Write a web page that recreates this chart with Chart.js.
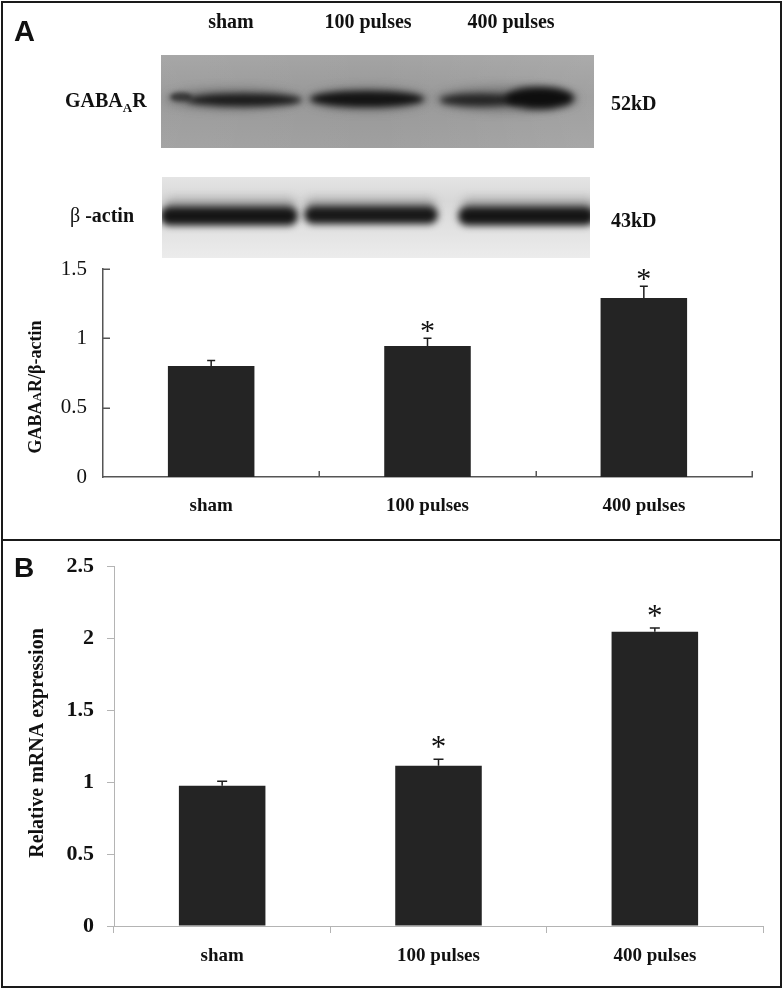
<!DOCTYPE html>
<html><head><meta charset="utf-8">
<script src="https://cdn.jsdelivr.net/npm/chart.js@4.4.1/dist/chart.umd.min.js"></script>
<style>
html,body{margin:0;padding:0;background:#fff;}
#wrap{position:relative;width:783px;height:990px;overflow:hidden;background:#fff;}
#wrap canvas{position:absolute;left:0;}
#cA{top:0;}
#cB{top:540px;}
.frame{position:absolute;border:2px solid #1a1a1a;box-sizing:border-box;pointer-events:none;}
</style></head><body>
<div id="wrap">
<canvas id="cA" width="783" height="540"></canvas>
<canvas id="cB" width="783" height="450"></canvas>
<div class="frame" style="left:1px;top:1px;width:781px;height:540px"></div>
<div class="frame" style="left:1px;top:539px;width:781px;height:449px"></div>
</div>
<script>
// ---------- data ----------
const categories = ['sham', '100 pulses', '400 pulses'];
const proteinRatio = [0.80, 0.945, 1.29];
const proteinError = [0.04, 0.055, 0.085];
const mrnaExpression = [0.975, 1.113, 2.044];
const mrnaError = [0.03, 0.046, 0.027];
const significant = [false, true, true];
const proteinTickValues = [0, 0.5, 1, 1.5];
const mrnaTickValues = [0, 0.5, 1, 1.5, 2, 2.5];
const blotLaneLabels = ['sham', '100 pulses', '400 pulses'];

const SERIF = '"Liberation Serif", "Times New Roman", serif';
const SANS = '"Liberation Sans", Arial, sans-serif';
const BAR = '#242424';

// ---------- plugins ----------
const errorBars = {
  id: 'errorBars',
  afterDatasetsDraw(chart, args, o) {
    const ctx = chart.ctx, y = chart.scales.y;
    const meta = chart.getDatasetMeta(0);
    const vals = chart.data.datasets[0].data;
    ctx.save();
    ctx.strokeStyle = '#1e1e1e';
    ctx.lineWidth = o.lw;
    meta.data.forEach((bar, i) => {
      const base = y.getPixelForValue(vals[i]);
      const top = y.getPixelForValue(vals[i] + o.err[i]);
      ctx.beginPath();
      ctx.moveTo(bar.x, base); ctx.lineTo(bar.x, top);
      ctx.moveTo(bar.x - o.cap, top); ctx.lineTo(bar.x + o.cap, top);
      ctx.stroke();
      if (o.sig[i]) {
        ctx.fillStyle = '#111';
        ctx.font = o.starSize + 'px ' + SERIF;
        ctx.textAlign = 'center';
        ctx.textBaseline = 'alphabetic';
        const m = ctx.measureText('*');
        const cy = top - o.starGap;
        const baseY = cy + (m.actualBoundingBoxAscent - m.actualBoundingBoxDescent) / 2;
        ctx.fillText('*', bar.x, baseY);
      }
    });
    ctx.restore();
  }
};

function drawPieces(ctx, pieces, x, y) {
  let cx = x;
  pieces.forEach(p => {
    ctx.font = p[1];
    ctx.fillText(p[0], cx, y + (p[2] || 0));
    cx += ctx.measureText(p[0]).width;
  });
  return cx - x;
}
function piecesWidth(ctx, pieces) {
  let w = 0;
  pieces.forEach(p => { ctx.font = p[1]; w += ctx.measureText(p[0]).width; });
  return w;
}

function band(ctx, x0, x1, cy, h, color, blur) {
  ctx.save();
  ctx.filter = 'blur(' + blur + 'px)';
  ctx.fillStyle = color;
  ctx.beginPath();
  ctx.ellipse((x0 + x1) / 2, cy, (x1 - x0) / 2, h / 2, 0, 0, Math.PI * 2);
  ctx.fill();
  ctx.restore();
}
function flatBand(ctx, x0, x1, cy, h, color, blur) {
  ctx.save();
  ctx.filter = 'blur(' + blur + 'px)';
  ctx.fillStyle = color;
  ctx.beginPath();
  ctx.roundRect(x0, cy - h / 2, x1 - x0, h, h / 2);
  ctx.fill();
  ctx.restore();
}

const panelA = {
  id: 'panelA',
  afterDraw(chart) {
    const ctx = chart.ctx;
    const {x, y} = chart.scales;
    const area = chart.chartArea;
    ctx.save();
    // inner tick marks
    ctx.strokeStyle = '#555';
    ctx.lineWidth = 1.5;
    ctx.beginPath();
    proteinTickValues.forEach(v => {
      if (v === 0) return;
      const py = Math.round(y.getPixelForValue(v)) + 0.25;
      ctx.moveTo(area.left, py); ctx.lineTo(area.left + 7, py);
    });
    for (let i = 0; i < categories.length; i++) {
      const px = Math.round(x.getPixelForValue(i + 0.5)) + 0.25;
      ctx.moveTo(px, area.bottom); ctx.lineTo(px, area.bottom - 6);
    }
    ctx.stroke();

    ctx.fillStyle = '#111';
    ctx.textBaseline = 'alphabetic';
    // y title
    ctx.save();
    ctx.translate(41, 387);
    ctx.rotate(-Math.PI / 2);
    const tp = [['GABA', 'bold 18px ' + SERIF], ['A', 'bold 13px ' + SERIF], ['R/\u03b2-actin', 'bold 18px ' + SERIF]];
    const tw = piecesWidth(ctx, tp);
    drawPieces(ctx, tp, -tw / 2, 0);
    ctx.restore();

    // panel letter
    ctx.font = 'bold 29px ' + SANS;
    ctx.textAlign = 'left';
    ctx.fillText('A', 14, 41);

    // blot lane labels
    ctx.font = 'bold 20px ' + SERIF;
    ctx.textAlign = 'center';
    const laneX = [231, 368, 511];
    blotLaneLabels.forEach((t, i) => ctx.fillText(t, laneX[i], 28));

    // row labels
    ctx.textAlign = 'left';
    const gp = [['GABA', 'bold 20px ' + SERIF], ['A', 'bold 13px ' + SERIF, 5], ['R', 'bold 20px ' + SERIF]];
    drawPieces(ctx, gp, 65, 107);
    ctx.font = '20px ' + SERIF;
    const bw = ctx.measureText('\u03b2').width;
    ctx.fillText('\u03b2', 70, 222);
    ctx.font = 'bold 20px ' + SERIF;
    ctx.fillText(' -actin', 70 + bw, 222);
    ctx.fillText('52kD', 611, 110);
    ctx.fillText('43kD', 611, 227);

    // GABA blot
    ctx.save();
    ctx.beginPath(); ctx.rect(161, 55, 433, 93); ctx.clip();
    let g = ctx.createLinearGradient(0, 55, 0, 148);
    g.addColorStop(0, '#a4a4a4'); g.addColorStop(0.45, '#989898'); g.addColorStop(1, '#a0a0a0');
    ctx.fillStyle = g; ctx.fillRect(161, 55, 433, 93);
    let gh = ctx.createLinearGradient(161, 0, 594, 0);
    gh.addColorStop(0, 'rgba(255,255,255,0.04)'); gh.addColorStop(0.5, 'rgba(255,255,255,0)'); gh.addColorStop(1, 'rgba(255,255,255,0.08)');
    ctx.fillStyle = gh; ctx.fillRect(161, 55, 433, 93);
    band(ctx, 166, 300, 99, 22, 'rgba(60,60,60,0.35)', 5);
    band(ctx, 308, 428, 99, 24, 'rgba(60,60,60,0.35)', 5);
    band(ctx, 436, 578, 99, 26, 'rgba(60,60,60,0.35)', 5);
    band(ctx, 170, 192, 97, 9, '#3a3a3a', 2);
    band(ctx, 186, 302, 100, 13, '#1c1c1c', 3);
    band(ctx, 310, 424, 99, 16, '#141414', 3);
    band(ctx, 440, 522, 100, 13, '#262626', 3);
    band(ctx, 505, 574, 98, 22, '#0e0e0e', 3.5);
    ctx.restore();

    // actin blot
    ctx.save();
    ctx.beginPath(); ctx.rect(162, 177, 428, 81); ctx.clip();
    let g2 = ctx.createLinearGradient(0, 177, 0, 258);
    g2.addColorStop(0, '#e4e4e4'); g2.addColorStop(0.3, '#d8d8d8'); g2.addColorStop(0.65, '#e2e2e2'); g2.addColorStop(1, '#ececec');
    ctx.fillStyle = g2; ctx.fillRect(162, 177, 428, 81);
    flatBand(ctx, 165, 296, 205, 14, 'rgba(80,80,80,0.35)', 5);
    flatBand(ctx, 305, 436, 205, 14, 'rgba(80,80,80,0.35)', 5);
    flatBand(ctx, 462, 595, 205, 14, 'rgba(80,80,80,0.35)', 5);
    flatBand(ctx, 160, 298, 216, 19, '#151515', 3.5);
    flatBand(ctx, 304, 438, 215, 18, '#181818', 3.5);
    flatBand(ctx, 458, 595, 216, 19, '#151515', 3.5);
    ctx.restore();

    ctx.restore();
  }
};

const panelB = {
  id: 'panelB',
  afterDraw(chart) {
    const ctx = chart.ctx;
    ctx.save();
    ctx.fillStyle = '#111';
    ctx.textBaseline = 'alphabetic';
    ctx.font = 'bold 28px ' + SANS;
    ctx.textAlign = 'left';
    ctx.fillText('B', 14, 37);
    ctx.translate(43, 203);
    ctx.rotate(-Math.PI / 2);
    ctx.textAlign = 'center';
    ctx.font = 'bold 20px ' + SERIF;
    ctx.fillText('Relative mRNA expression', 0, 0);
    ctx.restore();
  }
};

// ---------- charts ----------
function makeChart(id, values, err, ticks, cfg) {
  return new Chart(document.getElementById(id), {
    type: 'bar',
    data: {
      labels: categories,
      datasets: [{
        data: values,
        backgroundColor: BAR,
        borderWidth: 0,
        barPercentage: 0.4,
        categoryPercentage: 1.0
      }]
    },
    options: {
      responsive: false,
      animation: false,
      events: [],
      layout: { padding: cfg.padding },
      plugins: {
        legend: { display: false },
        tooltip: { enabled: false },
        errorBars: { err: err, sig: significant, cap: cfg.cap, lw: 1.5, starSize: cfg.starSize, starGap: cfg.starGap }
      },
      scales: {
        x: {
          offset: true,
          grid: cfg.xGrid,
          border: { display: true, color: cfg.axisColor, width: cfg.axisWidth },
          ticks: { color: '#111', font: { family: SERIF, size: 19, weight: 'bold' }, padding: cfg.xPad, maxRotation: 0 },
          afterFit: s => { s.height = cfg.xHeight; }
        },
        y: {
          min: ticks[0], max: ticks[ticks.length - 1],
          afterBuildTicks: s => { s.ticks = ticks.map(v => ({ value: v })); },
          grid: cfg.yGrid,
          border: { display: true, color: cfg.axisColor, width: cfg.axisWidth },
          ticks: {
            color: '#111',
            font: { family: SERIF, size: cfg.yFontSize, weight: cfg.yWeight },
            padding: cfg.yPad,
            callback: v => String(Number(v))
          },
          afterFit: s => { s.width = cfg.yWidth; }
        }
      }
    },
    plugins: [errorBars, cfg.extra]
  });
}

makeChart('cA', proteinRatio, proteinError, proteinTickValues, {
  padding: { top: 269, left: 0, right: 31, bottom: 0 },
  cap: 4, starSize: 30, starGap: 12,
  axisColor: '#555', axisWidth: 1.5,
  xGrid: { display: false, drawTicks: false },
  yGrid: { display: false, drawTicks: false },
  xPad: 18, xHeight: 63,
  yFontSize: 21, yWeight: 'normal', yPad: 16, yWidth: 103,
  extra: panelA
});

makeChart('cB', mrnaExpression, mrnaError, mrnaTickValues, {
  padding: { top: 21, left: 0, right: 20, bottom: 0 },
  cap: 5, starSize: 31, starGap: 17,
  axisColor: '#b4b4b4', axisWidth: 1,
  xGrid: { display: true, drawOnChartArea: false, drawTicks: true, tickLength: 7, offset: true, color: '#b4b4b4' },
  yGrid: { display: true, drawOnChartArea: false, drawTicks: true, tickLength: 7, color: '#b4b4b4' },
  xPad: 12, xHeight: 64,
  yFontSize: 22, yWeight: 'bold', yPad: 13, yWidth: 114,
  extra: panelB
});
</script>
</body></html>
